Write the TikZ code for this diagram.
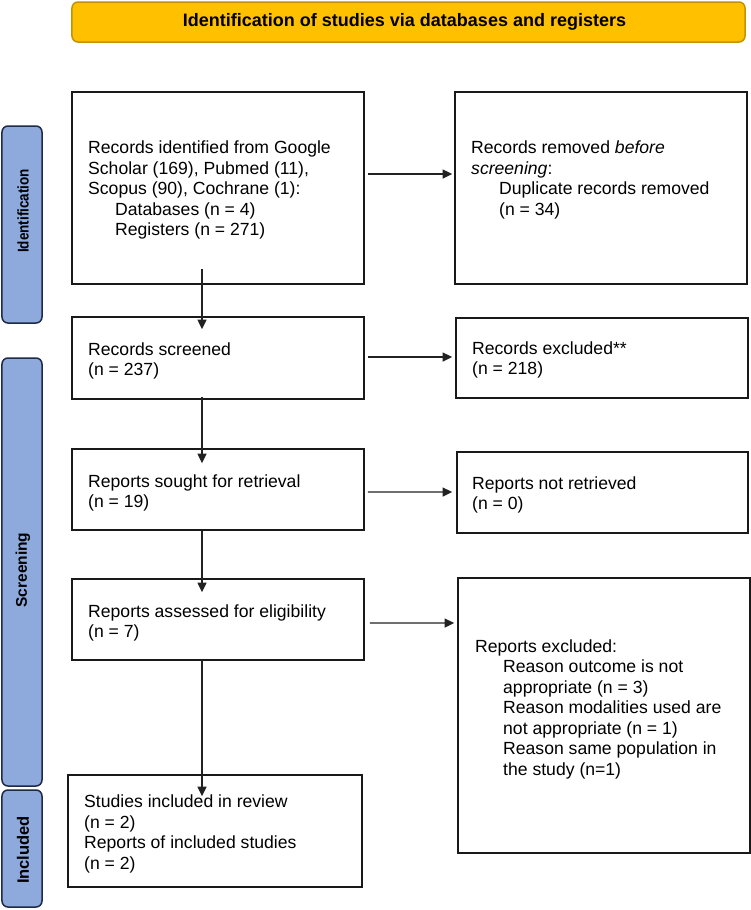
\documentclass[tikz,border=0pt]{standalone}
\usepackage{fontspec}
\setmainfont{Liberation Sans}
\usetikzlibrary{calc,arrows.meta}
\definecolor{bannerfill}{HTML}{FFC000}
\definecolor{bannerdraw}{HTML}{C29200}
\definecolor{sidefill}{HTML}{8EA9DB}
\definecolor{sidedraw}{HTML}{1F2B45}
\definecolor{arrowcol}{HTML}{222222}
\tikzset{
  box/.style={draw=black!90, line width=1.8bp, inner sep=0pt, rectangle},
  txt/.style={inner sep=0pt, align=left, anchor=west, font=\fontsize{17.6bp}{20.5bp}\selectfont},
  banner/.style={draw=bannerdraw, fill=bannerfill, line width=1.5bp, rounded corners=6bp, inner sep=0pt,
    font=\bfseries\fontsize{18bp}{20bp}\selectfont},
  side/.style={draw=sidedraw, fill=sidefill, line width=1.5bp, rounded corners=6bp, inner sep=0pt},
  sidelabel/.style={rotate=90, inner sep=0pt, font=\bfseries\fontsize{15.5bp}{17bp}\selectfont},
  arr/.style={draw=arrowcol, line width=1.4bp, -{Triangle[length=9.5bp,width=9bp]}}
}
\begin{document}
\begin{tikzpicture}[x=1bp,y=-1bp]
\useasboundingbox (0,0) rectangle (751,910);
% banner
\node[banner, minimum width=673bp, minimum height=40bp] (ban) at (408.5,22) {};
\node[inner sep=0pt, font=\bfseries\fontsize{18bp}{20bp}\selectfont] (bant) at (404.5,22) {Identification of studies via databases and registers};
% sidebars
\node[side, minimum width=40bp, minimum height=197bp] (s1) at (22,224.5) {};
\node[sidelabel] (s1t) at (23,211) {\scalebox{0.87}[1]{Identification}};
\node[side, minimum width=40bp, minimum height=428bp] (s2) at (22,572) {};
\node[sidelabel] (s2t) at (23,570) {Screening};
\node[side, minimum width=40bp, minimum height=117bp] (s3) at (22,848.5) {};
\node[sidelabel, font=\bfseries\fontsize{16.5bp}{18bp}\selectfont] (s3t) at (23,850) {Included};
% boxes
\node[box, minimum width=292bp, minimum height=192bp] (b1) at (218,188) {};
\node[box, minimum width=292bp, minimum height=192bp] (b2) at (601,188) {};
\node[box, minimum width=292bp, minimum height=82bp] (b3) at (218,358) {};
\node[box, minimum width=292bp, minimum height=80bp] (b4) at (602,358) {};
\node[box, minimum width=292bp, minimum height=81bp] (b5) at (218,489.5) {};
\node[box, minimum width=291bp, minimum height=81bp] (b6) at (602.5,492.5) {};
\node[box, minimum width=292bp, minimum height=81bp] (b7) at (218,619.5) {};
\node[box, minimum width=292bp, minimum height=275bp] (b8) at (604,715.5) {};
\node[box, minimum width=294bp, minimum height=112bp] (b9) at (215,831) {};
% texts
\node[txt] (t1) at (88,190) {Records identified from Google\\Scholar (169), Pubmed (11),\\Scopus (90), Cochrane (1):\\\hspace*{27bp}Databases (n = 4)\\\hspace*{27bp}Registers (n = 271)};
\node[txt] (t2) at (471,180) {Records removed \textit{before}\\\textit{screening}:\\\hspace*{28bp}Duplicate records removed\\\hspace*{28bp}(n = 34)};
\node[txt] (t3) at (88,361) {Records screened\\(n = 237)};
\node[txt] (t4) at (472,360) {Records excluded**\\(n = 218)};
\node[txt] (t5) at (88,493) {Reports sought for retrieval\\(n = 19)};
\node[txt] (t6) at (472,495) {Reports not retrieved\\(n = 0)};
\node[txt] (t7) at (88,623) {Reports assessed for eligibility\\(n = 7)};
\node[txt] (t8) at (475,709) {Reports excluded:\\\hspace*{28bp}Reason outcome is not\\\hspace*{28bp}appropriate (n = 3)\\\hspace*{28bp}Reason modalities used are\\\hspace*{28bp}not appropriate (n = 1)\\\hspace*{28bp}Reason same population in\\\hspace*{28bp}the study (n=1)};
\node[txt] (t9) at (84,834) {Studies included in review\\(n = 2)\\Reports of included studies\\(n = 2)};
% arrows
\draw[arr] ($(b1.east)+(3,-14)$) -- ($(b2.west)+(-2,-14)$);
\draw[arr] ($(b1.south)+(-16,-16)$) -- ($(b3.north)+(-16,13)$);
\draw[arr] ($(b3.east)+(3,-1)$) -- ($(b4.west)+(-3,-1)$);
\draw[arr] ($(b3.south)+(-16,-3)$) -- ($(b5.north)+(-16,15)$);
\draw[arr] ($(b5.east)+(3,2.5)$) -- ($(b6.west)+(-4,-0.5)$);
\draw[arr] ($(b5.south)+(-16,0)$) -- ($(b7.north)+(-16,14)$);
\draw[arr] ($(b7.east)+(5,3.5)$) -- ($(b8.west)+(-3,-92.5)$);
\draw[arr] ($(b7.south)+(-16,-2)$) -- ($(b9.north)+(-13,22)$);
\end{tikzpicture}
\end{document}
